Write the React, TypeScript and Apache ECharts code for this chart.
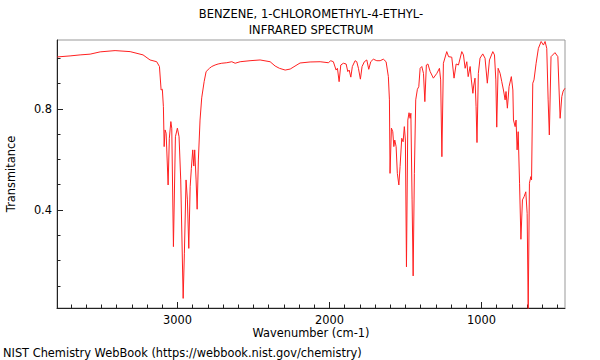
import React, { useEffect, useRef } from "react";
import * as echarts from "echarts";

const TITLE_LINES = ["BENZENE, 1-CHLOROMETHYL-4-ETHYL-", "INFRARED SPECTRUM"];
const X_NAME = "Wavenumber (cm-1)";
const Y_NAME = "Transmitance";
const FOOTER = "NIST Chemistry WebBook (https://webbook.nist.gov/chemistry)";

const X_MIN = 450;
const X_MAX = 3792;
const Y_MIN = 0.012;
const Y_MAX = 1.073;

const X_MAJOR = [1000, 2000, 3000];
const X_MINOR = [500, 600, 700, 800, 900, 1100, 1200, 1300, 1400, 1500, 1600, 1700, 1800, 1900,
  2100, 2200, 2300, 2400, 2500, 2600, 2700, 2800, 2900, 3100, 3200, 3300, 3400, 3500, 3600, 3700];
const Y_MAJOR = [0.4, 0.8];
const Y_MINOR = [0.1, 0.2, 0.3, 0.5, 0.6, 0.7, 0.9, 1.0];

const WAVENUMBER = [
  3790, 3706, 3640, 3574, 3508, 3410, 3311, 3226, 3180, 3136, 3118, 3107, 3099, 3092, 3087, 3081, 3074, 3061, 3053, 3043,
  3037, 3026, 3013, 3000, 2989, 2978, 2962, 2954, 2943, 2934, 2925, 2916, 2908, 2899, 2892, 2886, 2877, 2870, 2862, 2851,
  2840, 2824, 2811, 2789, 2774, 2752, 2732, 2708, 2675, 2642, 2620, 2587, 2522, 2456, 2390, 2357, 2329, 2291, 2258, 2193,
  2127, 2061, 2007, 1991, 1974, 1956, 1947, 1936, 1925, 1908, 1890, 1879, 1870, 1859, 1849, 1831, 1820, 1809, 1796, 1785,
  1770, 1754, 1741, 1728, 1711, 1688, 1666, 1645, 1627, 1612, 1605, 1601, 1592, 1583, 1576, 1570, 1561, 1553, 1543, 1535,
  1524, 1515, 1507, 1500, 1493, 1484, 1476, 1469, 1464, 1456, 1449, 1441, 1432, 1421, 1412, 1403, 1392, 1381, 1372, 1362,
  1352, 1337, 1316, 1293, 1276, 1268, 1260, 1250, 1228, 1216, 1195, 1180, 1166, 1151, 1129, 1118, 1107, 1096, 1087, 1074,
  1066, 1056, 1051, 1042, 1035, 1029, 1020, 1009, 991, 976, 961, 947, 925, 914, 905, 899, 890, 877, 866, 855,
  844, 838, 829, 818, 803, 793, 789, 778, 772, 765, 758, 749, 740, 730, 719, 708, 699, 692, 684, 675,
  670, 662, 654, 640, 625, 607, 592, 581, 570, 561, 553, 542, 516, 497, 489, 482, 471, 462, 450,
];

const TRANSMITTANCE = [
  1.006, 1.010, 1.014, 1.017, 1.026, 1.031, 1.027, 1.014, 0.994, 0.987, 0.968, 0.875, 0.878, 0.809, 0.651, 0.717, 0.704, 0.499, 0.684, 0.750,
  0.724, 0.255, 0.690, 0.724, 0.690, 0.519, 0.050, 0.229, 0.519, 0.440, 0.248, 0.492, 0.565, 0.638, 0.574, 0.638, 0.519, 0.403, 0.598, 0.756,
  0.844, 0.908, 0.948, 0.961, 0.968, 0.974, 0.978, 0.981, 0.983, 0.987, 0.981, 0.987, 0.991, 0.994, 0.987, 0.970, 0.961, 0.954, 0.958, 0.982,
  0.986, 0.987, 0.983, 0.991, 0.987, 0.954, 0.961, 0.908, 0.974, 0.981, 0.978, 0.948, 0.954, 0.926, 0.968, 0.991, 0.987, 0.961, 0.918, 0.968,
  0.987, 0.994, 0.957, 0.987, 0.997, 0.991, 0.991, 0.997, 0.987, 0.928, 0.836, 0.545, 0.724, 0.710, 0.651, 0.677, 0.651, 0.545, 0.499, 0.572,
  0.684, 0.670, 0.730, 0.677, 0.175, 0.756, 0.785, 0.763, 0.783, 0.440, 0.139, 0.545, 0.836, 0.878, 0.888, 0.961, 0.968, 0.941, 0.829, 0.974,
  0.978, 0.948, 0.922, 0.941, 0.961, 0.915, 0.611, 0.981, 1.027, 1.007, 1.005, 0.922, 0.978, 0.974, 1.027, 1.014, 0.961, 0.987, 0.928, 0.968,
  0.915, 0.862, 0.891, 0.922, 0.809, 0.667, 0.941, 1.001, 1.018, 1.001, 0.902, 0.994, 1.027, 1.014, 0.915, 0.728, 0.961, 0.941, 0.908, 0.875,
  0.836, 0.869, 0.803, 0.888, 0.928, 0.875, 0.756, 0.730, 0.756, 0.638, 0.710, 0.506, 0.284, 0.440, 0.453, 0.472, 0.387, 0.005, 0.506, 0.532,
  0.519, 0.902, 0.915, 0.981, 1.040, 1.067, 1.053, 1.067, 1.040, 0.836, 0.697, 1.007, 1.023, 1.007, 0.875, 0.763, 0.849, 0.871, 0.882,
];

const FONT = "DejaVu Sans";

export default function App() {
  const ref = useRef<HTMLDivElement>(null);

  useEffect(() => {
    if (!ref.current) return;
    const chart = echarts.init(ref.current, null, { renderer: "svg" });
    const n = Math.min(WAVENUMBER.length, TRANSMITTANCE.length);
    const data: [number, number][] = [];
    for (let i = 0; i < n; i++) data.push([WAVENUMBER[i], TRANSMITTANCE[i]]);

    const axisColor = "#222";
    const baseX = {
      type: "value",
      min: X_MIN,
      max: X_MAX,
      inverse: true,
      position: "bottom",
      gridIndex: 0,
      splitLine: { show: false },
    };
    const baseY = {
      type: "value",
      min: Y_MIN,
      max: Y_MAX,
      position: "left",
      gridIndex: 0,
      splitLine: { show: false },
    };

    chart.setOption({
      animation: false,
      backgroundColor: "#ffffff",
      grid: {
        left: 57,
        top: 40,
        width: 508,
        height: 268,
        show: true,
        borderColor: "#999",
        borderWidth: 1,
        backgroundColor: "transparent",
      },
      xAxis: [
        {
          ...baseX,
          axisLine: { show: true, lineStyle: { color: axisColor, width: 1 } },
          axisTick: { show: true, inside: true, length: 6, customValues: X_MAJOR, lineStyle: { color: axisColor } },
          axisLabel: {
            show: true,
            customValues: X_MAJOR,
            margin: 6,
            fontSize: 11.4,
            color: "#000",
            fontFamily: FONT,
            formatter: (v: number) => String(Math.round(v)),
          },
        },
        {
          ...baseX,
          axisLine: { show: false },
          axisTick: { show: true, inside: true, length: 3.5, customValues: X_MINOR, lineStyle: { color: axisColor } },
          axisLabel: { show: false },
        },
      ],
      yAxis: [
        {
          ...baseY,
          axisLine: { show: true, lineStyle: { color: axisColor, width: 1 } },
          axisTick: { show: true, inside: true, length: 6, customValues: Y_MAJOR, lineStyle: { color: axisColor } },
          axisLabel: {
            show: true,
            customValues: Y_MAJOR,
            margin: 5,
            fontSize: 11.4,
            color: "#000",
            fontFamily: FONT,
            formatter: (v: number) => v.toFixed(1),
          },
        },
        {
          ...baseY,
          axisLine: { show: false },
          axisTick: { show: true, inside: true, length: 3.5, customValues: Y_MINOR, lineStyle: { color: axisColor } },
          axisLabel: { show: false },
        },
      ],
      series: [
        {
          type: "line",
          xAxisIndex: 0,
          yAxisIndex: 0,
          data,
          showSymbol: false,
          symbol: "none",
          clip: true,
          lineStyle: { color: "#ff2020", width: 1 },
          z: 3,
        },
      ],
      graphic: [
        {
          type: "text",
          x: 311,
          y: 13.5,
          style: { text: TITLE_LINES[0], font: `11.5px '${FONT}'`, fill: "#000", textAlign: "center", verticalAlign: "middle" },
        },
        {
          type: "text",
          x: 311,
          y: 30,
          style: { text: TITLE_LINES[1], font: `11.5px '${FONT}'`, fill: "#000", textAlign: "center", verticalAlign: "middle" },
        },
        {
          type: "text",
          x: 311,
          y: 332.5,
          style: { text: X_NAME, font: `11.4px '${FONT}'`, fill: "#000", textAlign: "center", verticalAlign: "middle" },
        },
        {
          type: "text",
          x: 10.5,
          y: 174,
          rotation: Math.PI / 2,
          style: { text: Y_NAME, font: `11.4px '${FONT}'`, fill: "#000", textAlign: "center", verticalAlign: "middle" },
        },
        {
          type: "text",
          x: 3,
          y: 353,
          style: { text: FOOTER, font: `11.4px '${FONT}'`, fill: "#000", textAlign: "left", verticalAlign: "middle" },
        },
      ],
    });

    return () => chart.dispose();
  }, []);

  return <div ref={ref} style={{ position: "fixed", left: 0, top: 0, width: 600, height: 360 }} />;
}
